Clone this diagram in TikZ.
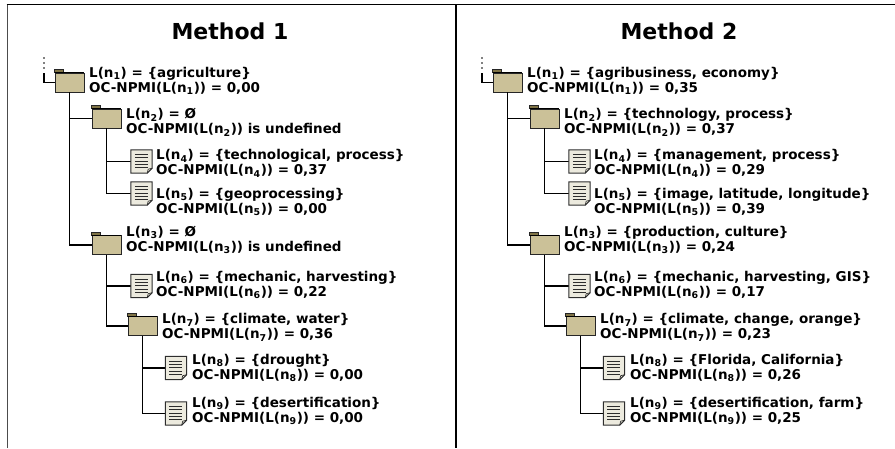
\documentclass[tikz,border=0pt]{standalone}
\usepackage{fontspec}
\setmainfont{DejaVu Sans}
\usetikzlibrary{calc}

\definecolor{foldertan}{RGB}{203,193,152}
\definecolor{foldertab}{RGB}{128,116,70}
\definecolor{docpaper}{RGB}{236,234,222}
\definecolor{docedge}{RGB}{45,45,45}

\newcommand\nsub[1]{\textsubscript{#1}}

\begin{document}
\begin{tikzpicture}[x=1pt,y=-1pt]
  \tikzstyle{folder}=[draw=black!85,line width=0.8pt,fill=foldertan,minimum width=29pt,minimum height=19pt,inner sep=0pt]
  \tikzstyle{docicon}=[minimum width=21pt,minimum height=23pt,inner sep=0pt]
  \tikzstyle{lbl}=[anchor=west,align=left,inner sep=0pt,font=\fontsize{13.5}{15}\selectfont\bfseries]
  \tikzstyle{title}=[font=\fontsize{22}{26}\selectfont\bfseries]
  \tikzstyle{branch}=[draw=black,line width=1.3pt]

  \useasboundingbox (0,0) rectangle (895,448);
  % Frame
  \draw[black!70,line width=1pt] (7,448) -- (7,4.5);
  \draw[line width=1.4pt] (6.5,4.5) -- (895,4.5);
  \draw[line width=1.4pt] (456,4.5) -- (456,448);

  % Titles
  \node[title] (h1) at (230,31) {Method 1};
  \node[title] (h2) at (679,31) {Method 2};

  % Method 1
  \coordinate (a0) at (44,73);
  \node[folder] (a1) at (69.5,82.5) {};
  \node[folder] (a2) at (106.5,118.5) {};
  \node[docicon] (a4) at (141.5,161.5) {};
  \node[docicon] (a5) at (141.5,193.5) {};
  \node[folder] (a3) at (106.5,245) {};
  \node[docicon] (a6) at (141.5,286) {};
  \node[folder] (a7) at (142.5,326) {};
  \node[docicon] (a8) at (176,368) {};
  \node[docicon] (a9) at (176,413.5) {};

  \node[lbl] (ta1) at (89,80.5) {L(n\nsub{1}) = \{agriculture\}\\OC-NPMI(L(n\nsub{1})) = 0,00};
  \node[lbl] (ta2) at (126,122.3) {L(n\nsub{2}) = Ø\\OC-NPMI(L(n\nsub{2})) is undefined};
  \node[lbl] (ta4) at (156,163.3) {L(n\nsub{4}) = \{technological, process\}\\OC-NPMI(L(n\nsub{4})) = 0,37};
  \node[lbl] (ta5) at (156,202.3) {L(n\nsub{5}) = \{geoprocessing\}\\OC-NPMI(L(n\nsub{5})) = 0,00};
  \node[lbl] (ta3) at (126,240.3) {L(n\nsub{3}) = Ø\\OC-NPMI(L(n\nsub{3})) is undefined};
  \node[lbl] (ta6) at (156,285.3) {L(n\nsub{6}) = \{mechanic, harvesting\}\\OC-NPMI(L(n\nsub{6})) = 0,22};
  \node[lbl] (ta7) at (162,327.3) {L(n\nsub{7}) = \{climate, water\}\\OC-NPMI(L(n\nsub{7})) = 0,36};
  \node[lbl] (ta8) at (192,368.3) {L(n\nsub{8}) = \{drought\}\\OC-NPMI(L(n\nsub{8})) = 0,00};
  \node[lbl] (ta9) at (192,411.3) {L(n\nsub{9}) = \{desertification\}\\OC-NPMI(L(n\nsub{9})) = 0,00};

  % Method 2
  \begin{scope}[xshift=438pt]
    \coordinate (b0) at (44,73);
    \node[folder] (b1) at (69.5,82.5) {};
    \node[folder] (b2) at (106.5,118.5) {};
    \node[docicon] (b4) at (141.5,161.5) {};
    \node[docicon] (b5) at (141.5,193.5) {};
    \node[folder] (b3) at (106.5,245) {};
    \node[docicon] (b6) at (141.5,286) {};
    \node[folder] (b7) at (142.5,326) {};
    \node[docicon] (b8) at (176,368) {};
    \node[docicon] (b9) at (176,413.5) {};

    \node[lbl] (tb1) at (89,80.5) {L(n\nsub{1}) = \{agribusiness, economy\}\\OC-NPMI(L(n\nsub{1})) = 0,35};
    \node[lbl] (tb2) at (126,122.3) {L(n\nsub{2}) = \{technology, process\}\\OC-NPMI(L(n\nsub{2})) = 0,37};
    \node[lbl] (tb4) at (156,163.3) {L(n\nsub{4}) = \{management, process\}\\OC-NPMI(L(n\nsub{4})) = 0,29};
    \node[lbl] (tb5) at (156,202.3) {L(n\nsub{5}) = \{image, latitude, longitude\}\\OC-NPMI(L(n\nsub{5})) = 0,39};
    \node[lbl] (tb3) at (126,240.3) {L(n\nsub{3}) = \{production, culture\}\\OC-NPMI(L(n\nsub{3})) = 0,24};
    \node[lbl] (tb6) at (156,285.3) {L(n\nsub{6}) = \{mechanic, harvesting, GIS\}\\OC-NPMI(L(n\nsub{6})) = 0,17};
    \node[lbl] (tb7) at (162,327.3) {L(n\nsub{7}) = \{climate, change, orange\}\\OC-NPMI(L(n\nsub{7})) = 0,23};
    \node[lbl] (tb8) at (192,368.3) {L(n\nsub{8}) = \{Florida, California\}\\OC-NPMI(L(n\nsub{8})) = 0,26};
    \node[lbl] (tb9) at (192,411.3) {L(n\nsub{9}) = \{desertification, farm\}\\OC-NPMI(L(n\nsub{9})) = 0,25};
  \end{scope}

  % Branches
  \foreach \t in {a,b} {
    \foreach \k in {1,2,3}
      \fill ($(\t0)+(0,-5*\k)$) circle (0.9pt);
    \path[branch] (\t0) |- (\t1.west)
      (\t1.south) |- (\t2.west)
      (\t1.south) |- (\t3.west)
      (\t2.south) |- (\t4.west)
      (\t2.south) |- (\t5.west)
      (\t3.south) |- (\t6.west)
      (\t3.south) |- (\t7.west)
      (\t7.south) |- (\t8.west)
      (\t7.south) |- (\t9.west);
  }

  % Folder tabs
  \foreach \f in {a1,a2,a3,a7,b1,b2,b3,b7} {
    \filldraw[fill=foldertab,draw=black!85,line width=0.6pt] (\f.north west) rectangle ++(9,-3);
    \draw[line width=1.2pt] (\f.north west) -- (\f.north east);
  }

  % Document icons
  \foreach \d in {a4,a5,a6,a8,a9,b4,b5,b6,b8,b9} {
    \draw[docedge,fill=docpaper,line width=1pt] (\d.north west) -- (\d.north east)
      -- ($(\d.south east)+(0,-5)$) -- ($(\d.south east)+(-5,0)$) -- (\d.south west) -- cycle;
    \draw[docedge,line width=0.7pt] ($(\d.south east)+(0,-5)$) -- ($(\d.south east)+(-4,-4)$)
      -- ($(\d.south east)+(-5,0)$);
    \foreach \k in {1,...,5}
      \draw[docedge,line width=1pt] ($(\d.north west)+(4,1.5+3.3*\k)$) -- ++(13,0);
  }
\end{tikzpicture}
\end{document}
